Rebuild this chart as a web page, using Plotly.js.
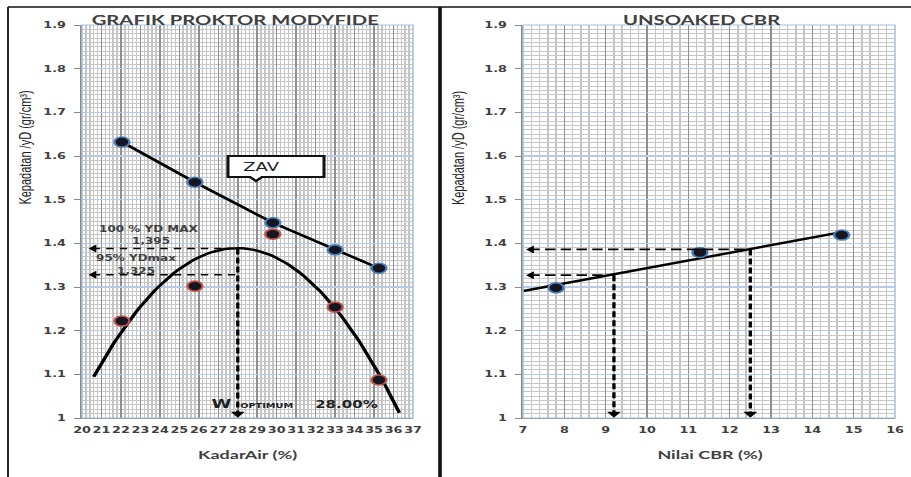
<!DOCTYPE html>
<html><head><meta charset="utf-8">
<script src="https://cdn.plot.ly/plotly-3.0.1.min.js"></script>
<style>
html,body{margin:0;padding:0;overflow:hidden;background:#fff;width:911px;height:477px}
#wrap{width:911px;height:477px;overflow:hidden;position:relative}
#chart{width:607px;height:477px;transform:scaleX(1.500824);transform-origin:0 0}
</style>
</head><body><div id="wrap"><div id="chart"></div></div>
<script>
// ---------- data ----------
const kadarAir = [22.05, 25.8, 29.8, 33.0, 35.25];
const zavDensity = [1.632, 1.540, 1.447, 1.385, 1.343];
const proctorDensity = [1.222, 1.302, 1.421, 1.254, 1.087];
const proctorTrendRange = [20.6, 36.3];
const cbrValue = [7.8, 11.28, 14.71];
const cbrDensity = [1.298, 1.379, 1.419];
const cbrTrendStart = [7.0];
const xTicksProctor = [20,21,22,23,24,25,26,27,28,29,30,31,32,33,34,35,36,37];
const xTicksCbr = [7,8,9,10,11,12,13,14,15,16];
const yTicks = [1,1.1,1.2,1.3,1.4,1.5,1.6,1.7,1.8,1.9];
const yTickText = ['1','1.1','1.2','1.3','1.4','1.5','1.6','1.7','1.8','1.9'];
const ydMaxLevels = [1.388, 1.328];        // drawn levels of 1,395 and 1,325
const ydMaxLabels = ['1,395', '1,325'];
const wOptimum = [28.0];
const wOptimumText = ['28.00%'];
const cbrGuideY = [1.386, 1.327];
const cbrGuideX = [12.5, 9.2];

// ---------- helpers ----------
const FW = 911, FH = 477;
const px = x => x / FW;
const py = y => 1 - y / FH;
const dark = '#404040';

function polyfit2(xs, ys) {
  const n = xs.length;
  let s = [0,0,0,0,0], t = [0,0,0];
  for (let i = 0; i < n; i++) {
    let p = 1;
    for (let k = 0; k < 5; k++) { s[k] += p; if (k < 3) t[k] += p * ys[i]; p *= xs[i]; }
  }
  const A = [[s[0],s[1],s[2],t[0]],[s[1],s[2],s[3],t[1]],[s[2],s[3],s[4],t[2]]];
  for (let c = 0; c < 3; c++) {
    for (let r = c + 1; r < 3; r++) {
      const f = A[r][c] / A[c][c];
      for (let k = c; k < 4; k++) A[r][k] -= f * A[c][k];
    }
  }
  const b = [0,0,0];
  for (let r = 2; r >= 0; r--) {
    let v = A[r][3];
    for (let k = r + 1; k < 3; k++) v -= A[r][k] * b[k];
    b[r] = v / A[r][r];
  }
  return b;
}
function linfit(xs, ys) {
  const n = xs.length;
  const mx = xs.reduce((a,b)=>a+b,0)/n, my = ys.reduce((a,b)=>a+b,0)/n;
  let sxy = 0, sxx = 0;
  for (let i = 0; i < n; i++) { sxy += (xs[i]-mx)*(ys[i]-my); sxx += (xs[i]-mx)**2; }
  const m = sxy / sxx;
  return [my - m*mx, m];
}

const pc = polyfit2(kadarAir, proctorDensity);
const trendX = [], trendY = [];
for (let i = 0; i <= 80; i++) {
  const x = proctorTrendRange[0] + (proctorTrendRange[1] - proctorTrendRange[0]) * i / 80;
  trendX.push(x); trendY.push(pc[0] + pc[1]*x + pc[2]*x*x);
}
const peakX = wOptimum[0];
const lc = linfit(cbrValue, cbrDensity);
const cbrTX = [cbrTrendStart[0], Math.max(...cbrValue)];
const cbrTY = cbrTX.map(x => lc[0] + lc[1]*x);

const markerFill = '#161620';
const blueEdge = '#4a7ebb';
const redEdge = '#c0504d';

const traces = [
  {x: trendX, y: trendY, mode: 'lines', line: {color: '#000', width: 2.4}, xaxis: 'x', yaxis: 'y'},
  {x: kadarAir, y: zavDensity, mode: 'lines+markers', line: {color: '#000', width: 2.4},
   marker: {size: 10, color: markerFill, line: {color: blueEdge, width: 1.6}}, xaxis: 'x', yaxis: 'y'},
  {x: kadarAir, y: proctorDensity, mode: 'markers',
   marker: {size: 10, color: markerFill, line: {color: redEdge, width: 1.6}}, xaxis: 'x', yaxis: 'y'},
  {x: [20.55, Math.min(...trendX.filter((x,i)=>trendY[i] >= ydMaxLevels[0]))], y: [ydMaxLevels[0], ydMaxLevels[0]], mode: 'lines',
   line: {color: '#000', width: 1.5, dash: '5px,4px'}, xaxis: 'x', yaxis: 'y'},
  {x: [20.55, peakX], y: [ydMaxLevels[1], ydMaxLevels[1]], mode: 'lines',
   line: {color: '#000', width: 1.5, dash: '5px,4px'}, xaxis: 'x', yaxis: 'y'},
  {x: [peakX, peakX], y: [ydMaxLevels[0], 1.012], mode: 'lines',
   line: {color: '#000', width: 2.2, dash: '6px,3px'}, xaxis: 'x', yaxis: 'y'},
  {x: [20.6, 20.6], y: ydMaxLevels, mode: 'markers',
   marker: {symbol: 'triangle-left', size: 7, color: '#000'}, xaxis: 'x', yaxis: 'y'},
  {x: [peakX], y: [1.01], mode: 'markers',
   marker: {symbol: 'triangle-down', size: 8, color: '#000'}, xaxis: 'x', yaxis: 'y'},
  {x: cbrTX, y: cbrTY, mode: 'lines', line: {color: '#000', width: 2.4}, xaxis: 'x2', yaxis: 'y2'},
  {x: cbrValue, y: cbrDensity, mode: 'markers',
   marker: {size: 10, color: markerFill, line: {color: blueEdge, width: 1.6}}, xaxis: 'x2', yaxis: 'y2'},
];
cbrGuideY.forEach((gy, i) => {
  const gx = cbrGuideX[i];
  traces.push({x: [7.15, gx], y: [gy, gy], mode: 'lines', line: {color: '#000', width: 1.8, dash: '7px,3.5px'}, xaxis: 'x2', yaxis: 'y2'});
  traces.push({x: [gx, gx], y: [gy, 1.012], mode: 'lines', line: {color: '#000', width: 2.2, dash: '6px,3px'}, xaxis: 'x2', yaxis: 'y2'});
  traces.push({x: [7.2], y: [gy], mode: 'markers', marker: {symbol: 'triangle-left', size: 7, color: '#000'}, xaxis: 'x2', yaxis: 'y2'});
  traces.push({x: [gx], y: [1.01], mode: 'markers', marker: {symbol: 'triangle-down', size: 8, color: '#000'}, xaxis: 'x2', yaxis: 'y2'});
});

const tickFont = {family: 'DejaVu Sans', size: 8.5, color: dark, weight: 'bold'};
function xAxis(domain, range, ticks, anchor) {
  return {domain, range, tickvals: ticks, ticktext: ticks.map(String), tickangle: 0,
    showgrid: true, gridcolor: '#8f8f8f', gridwidth: 1, zeroline: false,
    minor: {dtick: 0.2, tick0: range[0], showgrid: true, gridcolor: '#c4c4c4', gridwidth: 1},
    showline: true, linecolor: '#8a8a8a', linewidth: 1, ticks: '', ticklabelstandoff: 4,
    tickfont: tickFont, anchor, fixedrange: true};
}
function yAxis(domain, anchor) {
  return {domain, range: [1, 1.9], tickvals: yTicks, ticktext: yTickText,
    showgrid: true, gridcolor: '#b7cbe6', gridwidth: 1.3, zeroline: false,
    minor: {dtick: 0.01, tick0: 1, showgrid: true, gridcolor: '#c6c6c6', gridwidth: 1},
    showline: true, linecolor: '#8a8a8a', linewidth: 1, ticks: 'outside', ticklen: 4, tickcolor: '#8a8a8a',
    ticklabelstandoff: 4, tickfont: tickFont, anchor, fixedrange: true};
}
const yDom = [1 - 418/FH, 1 - 25/FH];
const ann = (text, x, y, font, extra) => Object.assign({text, xref: 'paper', yref: 'paper', x: px(x), y: py(y),
  xanchor: 'center', yanchor: 'middle', showarrow: false, font}, extra || {});
const layout = {
  width: 607, height: 477, margin: {l: 0, r: 0, t: 0, b: 0, pad: 0},
  paper_bgcolor: '#fff', plot_bgcolor: '#fff', showlegend: false,
  xaxis: xAxis([px(82), px(413)], [20, 37], xTicksProctor, 'y'),
  yaxis: yAxis(yDom, 'x'),
  xaxis2: xAxis([px(523), px(895)], [7, 16], xTicksCbr, 'y2'),
  yaxis2: yAxis(yDom, 'x2'),
  shapes: [
    {type: 'rect', xref: 'paper', yref: 'paper', x0: px(82), x1: px(413), y0: yDom[0], y1: yDom[1], line: {color: '#a9bfdd', width: 1}},
    {type: 'rect', xref: 'paper', yref: 'paper', x0: px(523), x1: px(895), y0: yDom[0], y1: yDom[1], line: {color: '#a9bfdd', width: 1}},
    {type: 'line', xref: 'paper', yref: 'paper', x0: px(8), x1: 1, y0: py(7), y1: py(7), line: {color: '#111', width: 1.6}},
    {type: 'line', xref: 'paper', yref: 'paper', x0: px(8), x1: px(8), y0: py(7), y1: 0, line: {color: '#222', width: 1.3}},
    {type: 'line', xref: 'paper', yref: 'paper', x0: px(440), x1: px(440), y0: py(7), y1: 0, line: {color: '#111', width: 2.4}},
    {type: 'path', xref: 'paper', yref: 'paper',
     path: `M${px(228)},${py(156)} L${px(324)},${py(156)} L${px(324)},${py(177)} L${px(262)},${py(177)} L${px(256)},${py(181)} L${px(250)},${py(177)} L${px(228)},${py(177)} Z`,
     line: {color: '#111', width: 2}, fillcolor: '#fff'},
  ],
  annotations: [
    ann('GRAFIK PROKTOR MODYFIDE', 235, 20, {family: 'Lato', size: 13.5, color: dark, weight: 'bold'}),
    ann('UNSOAKED CBR', 701, 20, {family: 'Lato', size: 13.5, color: dark, weight: 'bold'}),
    ann('KadarAir (%)', 248, 454, {family: 'Lato', size: 12, color: dark, weight: 'bold'}),
    ann('Nilai CBR (%)', 710, 454, {family: 'Lato', size: 12, color: dark, weight: 'bold'}),
    ann('Kepadatan /yD (gr/cm³)', 25, 148, {family: 'Liberation Sans Narrow, Liberation Sans', size: 11, color: '#222'}, {textangle: -90}),
    ann('Kepadatan /yD (gr/cm³)', 458, 148, {family: 'Liberation Sans Narrow, Liberation Sans', size: 11, color: '#222'}, {textangle: -90}),
    ann('ZAV', 262, 167, {family: 'DejaVu Sans', size: 12, color: '#222'}),
    ann('100 % YD MAX', 150, 229, {family: 'DejaVu Sans', size: 8, color: dark, weight: 'bold'}),
    ann(ydMaxLabels[0], 152, 242, {family: 'DejaVu Sans', size: 8, color: dark, weight: 'bold'}),
    ann('95% YDmax', 137, 258, {family: 'DejaVu Sans', size: 8, color: dark, weight: 'bold'}),
    ann(ydMaxLabels[1], 137, 271, {family: 'DejaVu Sans', size: 8, color: dark, weight: 'bold'}),
    ann('W', 221, 404, {family: 'DejaVu Sans', size: 12, color: '#222', weight: 'bold'}),
    ann('OPTIMUM', 267, 406, {family: 'DejaVu Sans', size: 6.5, color: '#222', weight: 'bold'}),
    ann(wOptimumText[0], 346, 404, {family: 'DejaVu Sans', size: 10, color: '#222', weight: 'bold'}),
  ]
};
Plotly.newPlot('chart', traces, layout, {staticPlot: true, displayModeBar: false});
</script>
</body></html>
